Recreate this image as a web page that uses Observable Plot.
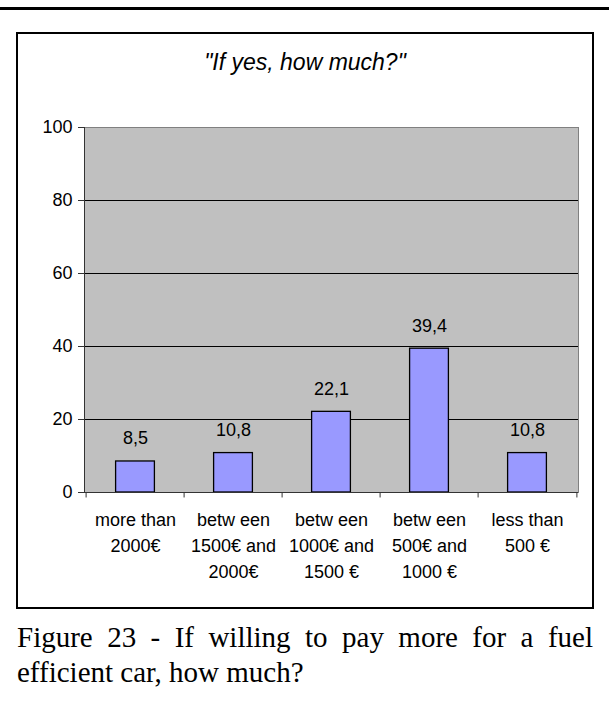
<!DOCTYPE html>
<html>
<head>
<meta charset="utf-8">
<script src="https://cdn.jsdelivr.net/npm/d3@7"></script>
<script src="https://cdn.jsdelivr.net/npm/@observablehq/plot@0.6"></script>
<style>
  html, body { margin: 0; padding: 0; background: white; }
  body { width: 609px; height: 702px; position: relative; overflow: hidden; font-family: "Liberation Sans", Arial, sans-serif; }
  #rule { position: absolute; left: 0; top: 7px; width: 609px; height: 3px; background: black; }
  #box { position: absolute; left: 16px; top: 32px; width: 578px; height: 577px; box-sizing: border-box; border: 2px solid black; pointer-events: none; }
  #chart { position: absolute; left: 0; top: 0; }
  #title { position: absolute; left: 16px; top: 49px; width: 578px; text-align: center; font-style: italic; font-size: 23px; line-height: 26px; color: black; }
  #caption { position: absolute; left: 17px; top: 620px; width: 576px; font-family: "Liberation Serif", "Times New Roman", serif; font-size: 29px; line-height: 35px; text-align: justify; text-align-last: left; color: black; }
</style>
</head>
<body>
<div id="rule"></div>
<div id="chart"></div>
<div id="box"></div>
<div id="title">"If yes, how much?"</div>
<div id="caption">Figure 23 - If willing to pay more for a fuel efficient car, how much?</div>
<script>
const categories = [
  "more than\n2000€",
  "betw een\n1500€ and\n2000€",
  "betw een\n1000€ and\n1500 €",
  "betw een\n500€ and\n1000 €",
  "less than\n500 €"
];
const values = [8.5, 10.8, 22.1, 39.4, 10.8];
const yTicks = [0, 20, 40, 60, 80, 100];
const gridValues = [20, 40, 60, 80];

const data = categories.map((c, i) => ({cat: c, value: values[i]}));
const fmt = v => String(v).replace(".", ",");

const W = 609, H = 610;
const mL = 84, mR = 31, mT = 127, mB = 118;
const step = (W - mL - mR) / categories.length;

const plot = Plot.plot({
  width: W,
  height: H,
  marginLeft: mL,
  marginRight: mR,
  marginTop: mT,
  marginBottom: mB,
  style: {background: "transparent", fontFamily: "'Liberation Sans', Arial, sans-serif", fontSize: "18px", color: "black", overflow: "visible"},
  x: {type: "band", domain: categories, padding: 0, axis: null},
  y: {domain: [0, 100], axis: null},
  marks: [
    Plot.frame({fill: "#c0c0c0", stroke: "#808080"}),
    Plot.ruleY(gridValues, {stroke: "black", strokeWidth: 1}),
    Plot.barY(data, {x: "cat", y: "value", fill: "#9999ff", stroke: "black", strokeWidth: 1.3, insetLeft: 29.6, insetRight: 29.6}),
    Plot.frame({anchor: "left", stroke: "#333"}),
    Plot.ruleY([0], {stroke: "#333"}),
    Plot.axisY({ticks: yTicks, tickSize: 6, tickPadding: 6, fontSize: 18, label: null, stroke: "#333", fill: "black"}),
    Plot.ruleX(categories, {x: d => d, dx: -step / 2, y1: 0, y2: -1.5, stroke: "#333"}),
    Plot.ruleX([categories[categories.length - 1]], {x: d => d, dx: step / 2, y1: 0, y2: -1.5, stroke: "#333"}),
    Plot.text(data, {x: "cat", y: "value", text: d => fmt(d.value), dy: -17, lineAnchor: "bottom", fontSize: 18, fill: "black"}),
    Plot.text(categories, {x: d => d, frameAnchor: "bottom", text: d => d, lineAnchor: "top", dy: 15, lineHeight: 26 / 18, fontSize: 18, fill: "black"})
  ]
});
document.getElementById("chart").appendChild(plot);
</script>
</body>
</html>
